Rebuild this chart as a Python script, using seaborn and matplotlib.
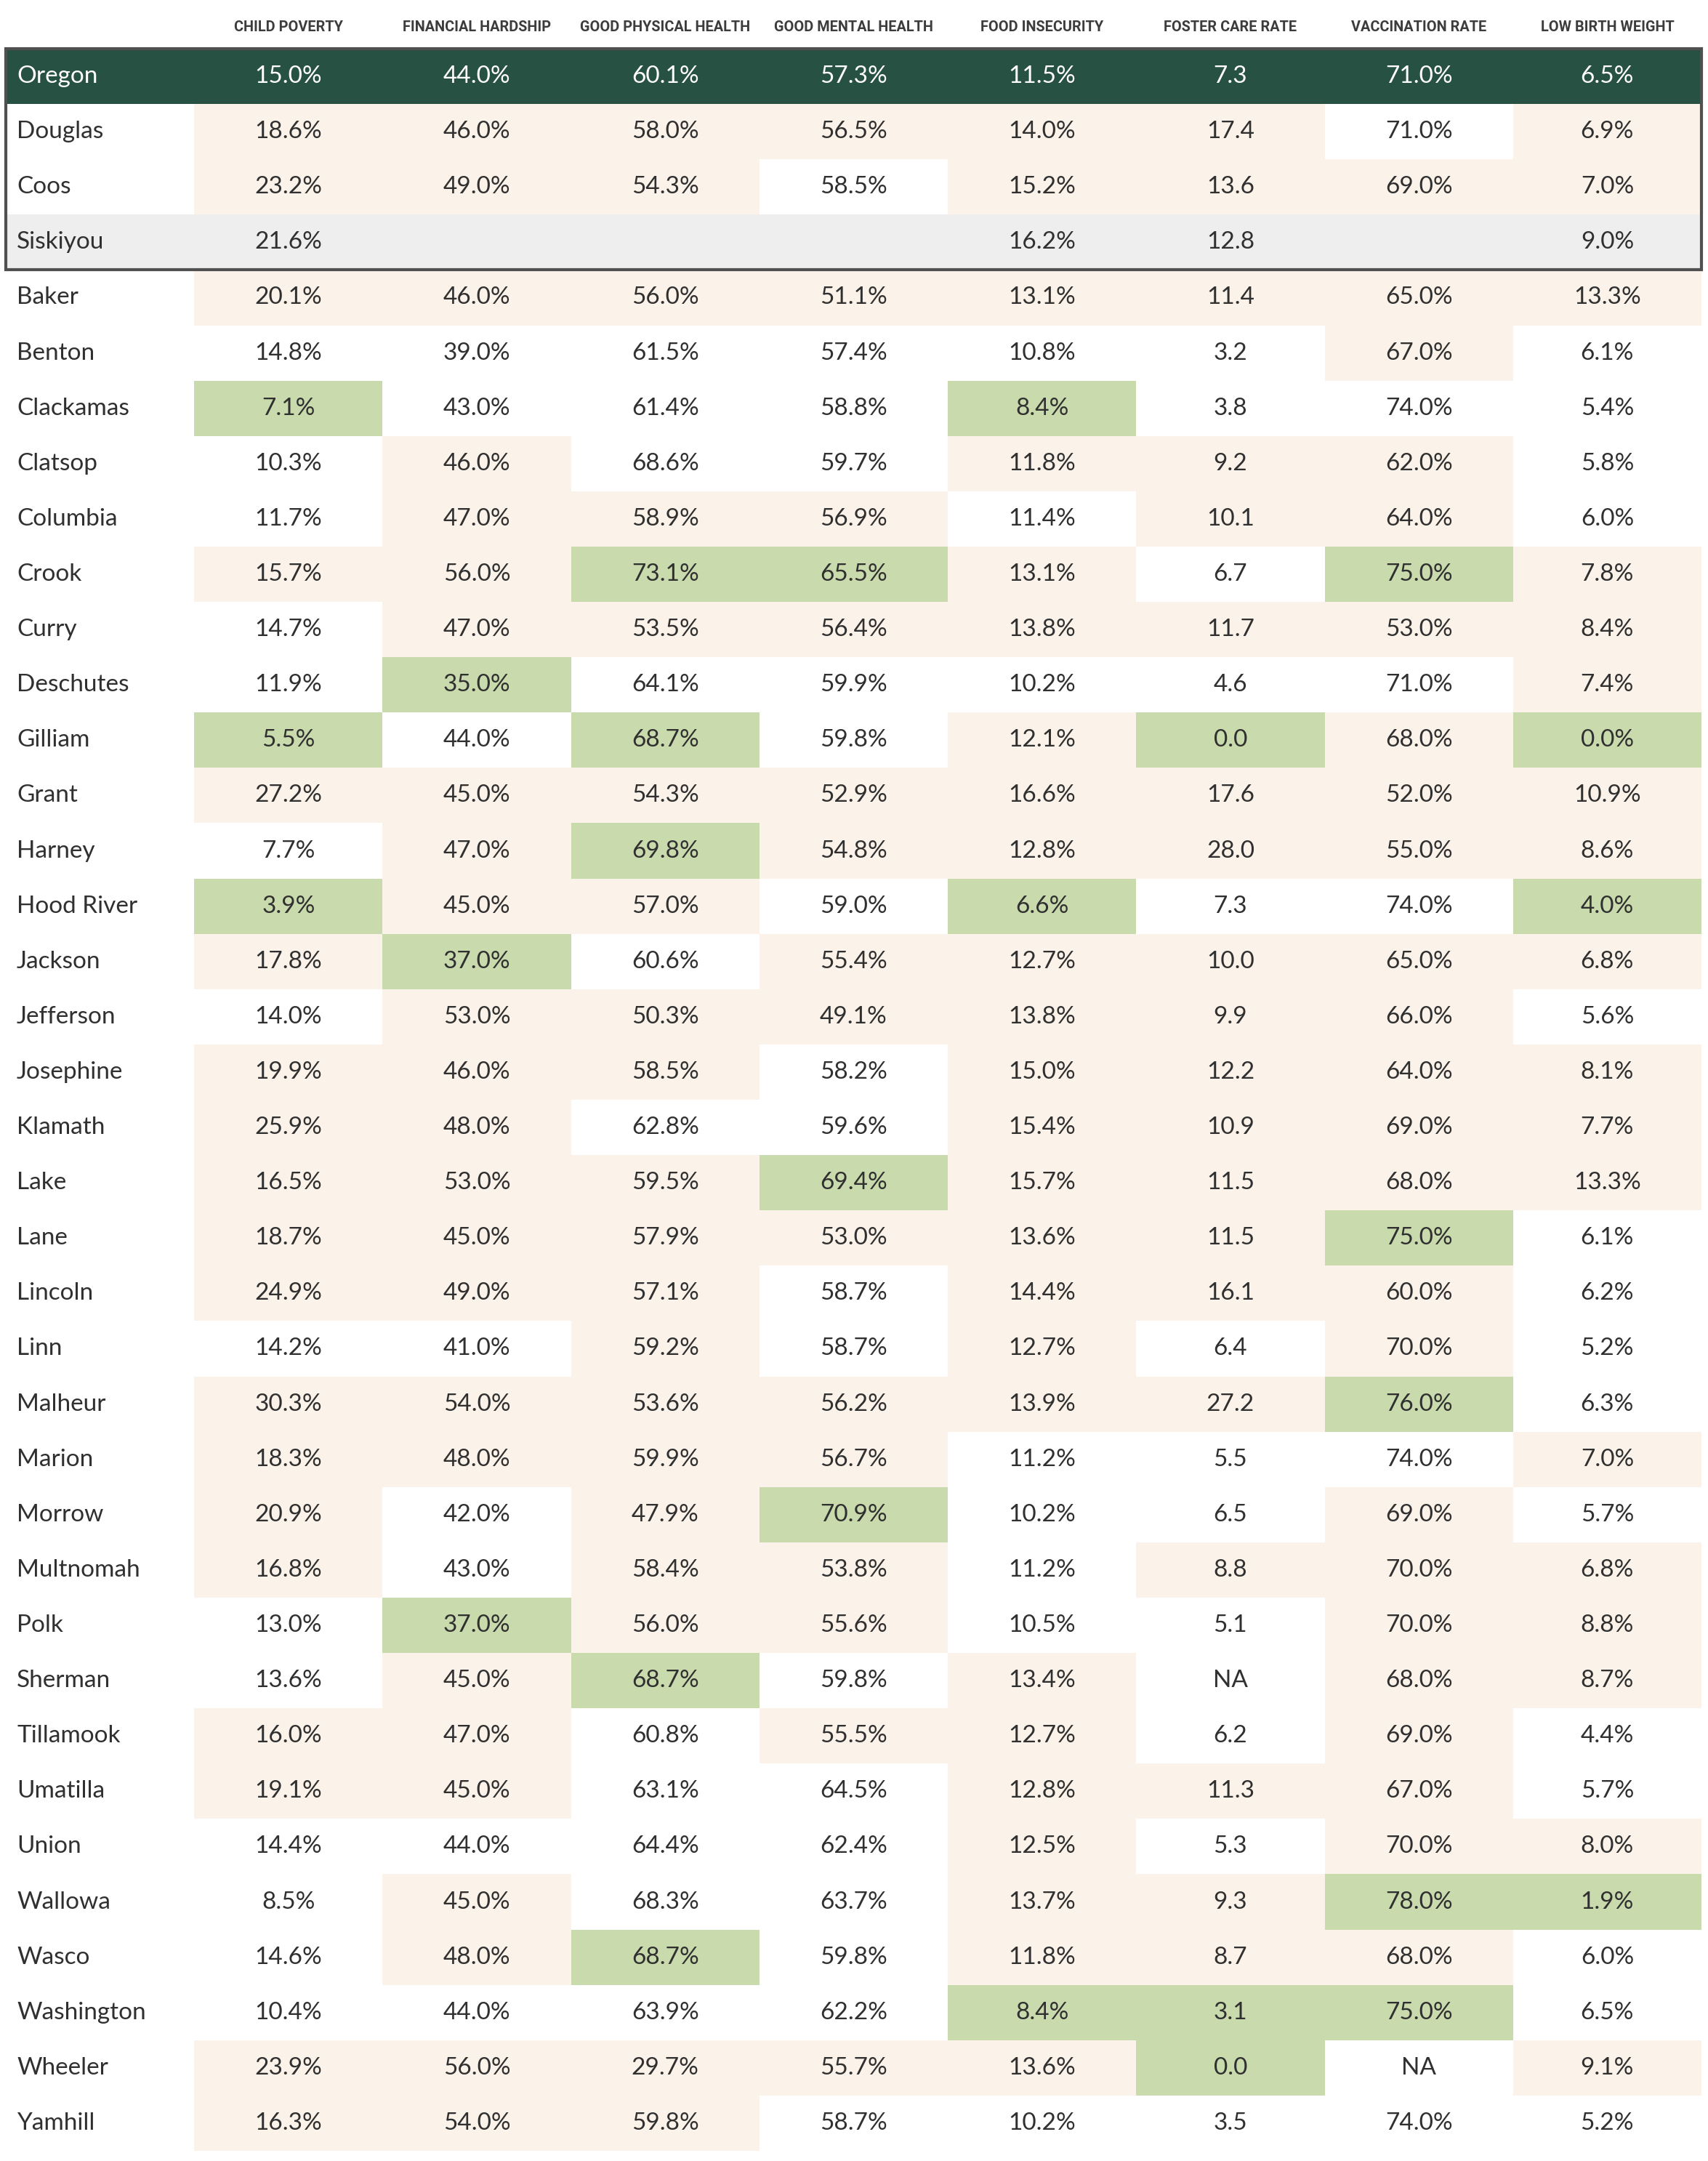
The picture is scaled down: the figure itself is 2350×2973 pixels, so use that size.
import numpy as np
import pandas as pd
import matplotlib
matplotlib.use('Agg')
import matplotlib.pyplot as plt
from matplotlib import font_manager
from matplotlib.colors import ListedColormap
from matplotlib.patches import Rectangle
import seaborn as sns


# === Data ===

counties = [
    'Oregon', 'Douglas', 'Coos', 'Siskiyou', 'Baker', 'Benton', 'Clackamas',
    'Clatsop', 'Columbia', 'Crook', 'Curry', 'Deschutes', 'Gilliam', 'Grant',
    'Harney', 'Hood River', 'Jackson', 'Jefferson', 'Josephine', 'Klamath',
    'Lake', 'Lane', 'Lincoln', 'Linn', 'Malheur', 'Marion', 'Morrow',
    'Multnomah', 'Polk', 'Sherman', 'Tillamook', 'Umatilla', 'Union',
    'Wallowa', 'Wasco', 'Washington', 'Wheeler', 'Yamhill',
]

child_poverty = [
    15.0, 18.6, 23.2, 21.6, 20.1, 14.8, 7.1, 10.3, 11.7, 15.7, 14.7, 11.9,
    5.5, 27.2, 7.7, 3.9, 17.8, 14.0, 19.9, 25.9, 16.5, 18.7, 24.9, 14.2,
    30.3, 18.3, 20.9, 16.8, 13.0, 13.6, 16.0, 19.1, 14.4, 8.5, 14.6, 10.4,
    23.9, 16.3,
]
financial_hardship = [
    44.0, 46.0, 49.0, None, 46.0, 39.0, 43.0, 46.0, 47.0, 56.0, 47.0, 35.0,
    44.0, 45.0, 47.0, 45.0, 37.0, 53.0, 46.0, 48.0, 53.0, 45.0, 49.0, 41.0,
    54.0, 48.0, 42.0, 43.0, 37.0, 45.0, 47.0, 45.0, 44.0, 45.0, 48.0, 44.0,
    56.0, 54.0,
]
physical_health = [
    60.1, 58.0, 54.3, None, 56.0, 61.5, 61.4, 68.6, 58.9, 73.1, 53.5, 64.1,
    68.7, 54.3, 69.8, 57.0, 60.6, 50.3, 58.5, 62.8, 59.5, 57.9, 57.1, 59.2,
    53.6, 59.9, 47.9, 58.4, 56.0, 68.7, 60.8, 63.1, 64.4, 68.3, 68.7, 63.9,
    29.7, 59.8,
]
mental_health = [
    57.3, 56.5, 58.5, None, 51.1, 57.4, 58.8, 59.7, 56.9, 65.5, 56.4, 59.9,
    59.8, 52.9, 54.8, 59.0, 55.4, 49.1, 58.2, 59.6, 69.4, 53.0, 58.7, 58.7,
    56.2, 56.7, 70.9, 53.8, 55.6, 59.8, 55.5, 64.5, 62.4, 63.7, 59.8, 62.2,
    55.7, 58.7,
]
food_insecurity = [
    11.5, 14.0, 15.2, 16.2, 13.1, 10.8, 8.4, 11.8, 11.4, 13.1, 13.8, 10.2,
    12.1, 16.6, 12.8, 6.6, 12.7, 13.8, 15.0, 15.4, 15.7, 13.6, 14.4, 12.7,
    13.9, 11.2, 10.2, 11.2, 10.5, 13.4, 12.7, 12.8, 12.5, 13.7, 11.8, 8.4,
    13.6, 10.2,
]
foster_care = [
    7.3, 17.4, 13.6, 12.8, 11.4, 3.2, 3.8, 9.2, 10.1, 6.7, 11.7, 4.6,
    0.0, 17.6, 28.0, 7.3, 10.0, 9.9, 12.2, 10.9, 11.5, 11.5, 16.1, 6.4,
    27.2, 5.5, 6.5, 8.8, 5.1, None, 6.2, 11.3, 5.3, 9.3, 8.7, 3.1,
    0.0, 3.5,
]
vaccination = [
    71.0, 71.0, 69.0, None, 65.0, 67.0, 74.0, 62.0, 64.0, 75.0, 53.0, 71.0,
    68.0, 52.0, 55.0, 74.0, 65.0, 66.0, 64.0, 69.0, 68.0, 75.0, 60.0, 70.0,
    76.0, 74.0, 69.0, 70.0, 70.0, 68.0, 69.0, 67.0, 70.0, 78.0, 68.0, 75.0,
    None, 74.0,
]
low_birth_weight = [
    6.5, 6.9, 7.0, 9.0, 13.3, 6.1, 5.4, 5.8, 6.0, 7.8, 8.4, 7.4,
    0.0, 10.9, 8.6, 4.0, 6.8, 5.6, 8.1, 7.7, 13.3, 6.1, 6.2, 5.2,
    6.3, 7.0, 5.7, 6.8, 8.8, 8.7, 4.4, 5.7, 8.0, 1.9, 6.0, 6.5,
    9.1, 5.2,
]

headers = [
    'CHILD POVERTY', 'FINANCIAL HARDSHIP', 'GOOD PHYSICAL HEALTH',
    'GOOD MENTAL HEALTH', 'FOOD INSECURITY', 'FOSTER CARE RATE',
    'VACCINATION RATE', 'LOW BIRTH WEIGHT',
]
columns = [
    child_poverty, financial_hardship, physical_health, mental_health,
    food_insecurity, foster_care, vaccination, low_birth_weight,
]
# Whether a lower value is better, and whether the value is a percent.
lower_better = [True, True, False, False, True, True, False, True]
is_percent = [True, True, True, True, True, False, True, True]

state = 'Oregon'
out_of_state = 'Siskiyou'


# === Cell colours ===

# 0 white, 1 worse than state, 2 top three, 3 state row, 4 out of state.
palette = ['#FFFFFF', '#FBF2E9', '#C9DAAD', '#275142', '#EEEEEE']

table = pd.DataFrame(
    {h: pd.to_numeric(pd.Series(c, dtype='object'), errors='coerce') for h, c in zip(headers, columns)}
)
table.index = counties

codes = np.zeros((len(counties), len(headers) + 1), dtype=int)
in_state = [c for c in counties if c not in (state, out_of_state)]
for j, (h, low) in enumerate(zip(headers, lower_better)):
    col = table.loc[in_state, h]
    ranks = col.rank(method='min', ascending=low)
    ref = table.loc[state, h]
    for c in in_state:
        i = counties.index(c)
        v = col[c]
        if np.isnan(v):
            continue
        if ranks[c] <= 3:
            codes[i, j + 1] = 2
        elif (v > ref) if low else (v < ref):
            codes[i, j + 1] = 1
codes[counties.index(state), :] = 3
codes[counties.index(out_of_state), :] = 4


# === Plot ===

installed = {f.name for f in font_manager.fontManager.ttflist}
header_font = 'Liberation Sans Narrow' if 'Liberation Sans Narrow' in installed else 'Roboto'

plt.rcParams['font.family'] = ['Lato', 'DejaVu Sans']
fig = plt.figure(figsize=(23.5, 29.73), dpi=100)
W, H = 2350, 2973
left, right, top, bottom = 8, 2341, 67, 2959
ax = fig.add_axes([left / W, 1 - bottom / H, (right - left) / W, (bottom - top) / H])

sns.heatmap(
    codes, ax=ax, cmap=ListedColormap(palette), vmin=-0.5, vmax=4.5,
    cbar=False, xticklabels=False, yticklabels=False, linewidths=0,
)
ax.set_axis_off()

text_color = '#303030'
for i, county in enumerate(counties):
    color = 'white' if county == state else text_color
    ax.text(0.058, i + 0.5, county, ha='left', va='center',
            fontsize=24, color=color)
    for j, h in enumerate(headers):
        v = table.loc[county, h]
        if np.isnan(v):
            label = '' if county == out_of_state else 'NA'
        elif is_percent[j]:
            label = f'{v:.1f}%'
        else:
            label = f'{v:.1f}'
        ax.text(j + 1.5, i + 0.5, label, ha='center', va='center',
                fontsize=24, color=color)

# Header labels, sized so that the first one is about 150 px wide.
renderer = fig.canvas.get_renderer()
probe = fig.text(0, 0, headers[0], fontsize=14, fontweight='bold', family=header_font)
width = probe.get_window_extent(renderer).width
probe.remove()
header_size = 14 * 150 / width

for j, h in enumerate(headers):
    ax.text(j + 1.5, -0.39, h, ha='center', va='center', fontsize=header_size,
            fontweight='bold', color='#3c3c3c', clip_on=False,
            family=header_font)

# Frame round the state and neighbouring counties.
ax.add_patch(Rectangle((0, 0), len(headers) + 1, 4, fill=False,
                       edgecolor='#505050', linewidth=3, clip_on=False, zorder=5))

fig.savefig('out.png', dpi=100)
